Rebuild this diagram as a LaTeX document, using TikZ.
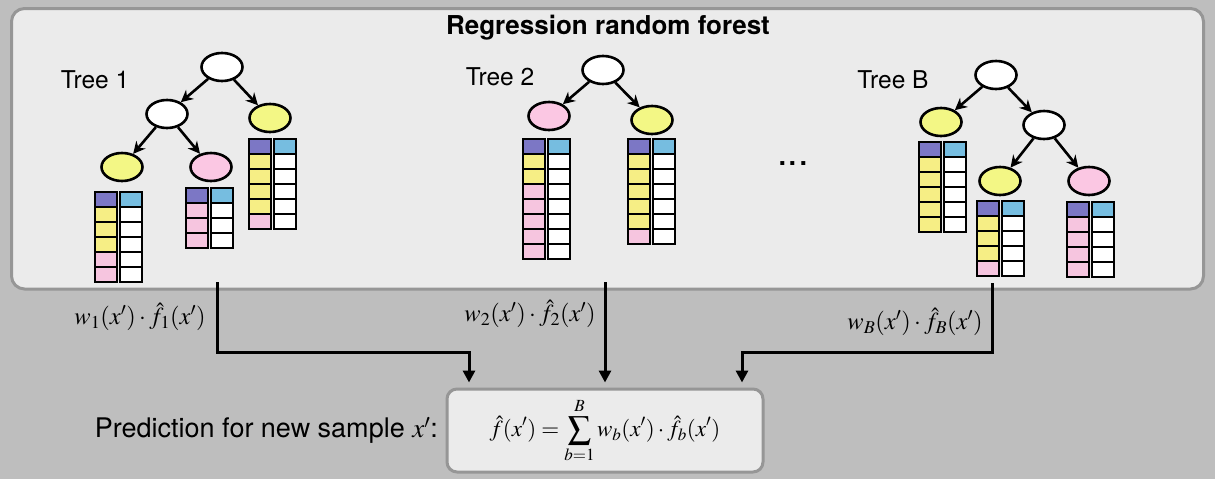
\documentclass[tikz,border=0pt]{standalone}
\usepackage{mathptmx}
\usepackage[no-math]{fontspec}
\setmainfont{TeX Gyre Heros}
\usetikzlibrary{arrows.meta,shapes.geometric,positioning}

\definecolor{bggray}{HTML}{BEBEBE}
\definecolor{panel}{HTML}{EBEBEB}
\definecolor{rim}{HTML}{969696}
\definecolor{leafyel}{HTML}{F3F785}
\definecolor{leafpink}{HTML}{FBC7E3}
\definecolor{cellpur}{HTML}{7C77C5}
\definecolor{cellyel}{HTML}{F6EE85}
\definecolor{cellpink}{HTML}{F6C5DF}
\definecolor{cellblue}{HTML}{76BDE0}

\tikzset{
  tnode/.style={draw, ellipse, line width=2.6pt, minimum width=41pt, minimum height=28pt, inner sep=0pt},
  innernode/.style={tnode, fill=white},
  yleaf/.style={tnode, fill=leafyel},
  pleaf/.style={tnode, fill=leafpink},
  branch/.style={line width=2.6pt, -{Stealth[length=12pt,width=12pt]}},
  feed/.style={line width=3pt, -{Triangle[length=12pt,width=12pt]}, shorten >=5pt},
  cell/.style={draw, line width=1.4pt},
  panelbox/.style={fill=panel, draw=rim, line width=3pt, rounded corners=13pt},
  treelbl/.style={font=\fontsize{24.5}{28}\selectfont},
  bigtext/.style={font=\fontsize{27}{30}\selectfont},
  mathlbl/.style={font=\fontsize{24.5}{28}\selectfont},
}

% leaf table: top-left corner, colours of the left column
\newcommand{\leaftab}[3]{%
  \foreach \c [count=\i from 0] in {#3} {
    \draw[cell, fill=\c] (#1, #2+15*\i) rectangle ++(22,15);
    \draw[cell, fill=white] (#1+25, #2+15*\i) rectangle ++(22,15);
  }
  \draw[cell, fill=cellblue] (#1+25, #2) rectangle ++(22,15);
}

\begin{document}
\begin{tikzpicture}[x=1pt, y=-1pt]
  \fill[bggray] (0,0) rectangle (1215,479);
  \useasboundingbox (0,0) rectangle (1215,479);

  % forest panel
  \draw[panelbox] (11.5,8.5) rectangle (1203.5,289);
  \node[font=\fontsize{26}{28}\selectfont\bfseries] (title) at (608,28) {Regression random forest};

  % tree 1
  \node[treelbl] (lab1) at (95,80) {Tree 1};
  \node[innernode] (r1) at (222,67) {};
  \node[innernode] (a1) at (167,114) {};
  \node[yleaf] (l1a) at (270,118) {};
  \node[yleaf] (l1b) at (122,167) {};
  \node[pleaf] (l1c) at (211,167) {};
  \draw[branch] (r1) -- (a1);
  \draw[branch] (r1) -- (l1a);
  \draw[branch] (a1) -- (l1b);
  \draw[branch] (a1) -- (l1c);
  \leaftab{95}{192}{cellpur,cellyel,cellyel,cellyel,cellpink,cellpink}
  \leaftab{186}{188}{cellpur,cellpink,cellpink,cellpink}
  \leaftab{249}{139}{cellpur,cellyel,cellyel,cellyel,cellyel,cellpink}

  % tree 2
  \node[treelbl] (lab2) at (500,77) {Tree 2};
  \node[innernode] (r2) at (603,70) {};
  \node[pleaf] (l2a) at (549,116) {};
  \node[yleaf] (l2b) at (652,120) {};
  \draw[branch] (r2) -- (l2a);
  \draw[branch] (r2) -- (l2b);
  \leaftab{523}{139}{cellpur,cellyel,cellyel,cellpink,cellpink,cellpink,cellpink,cellpink}
  \leaftab{628}{139}{cellpur,cellyel,cellyel,cellyel,cellyel,cellyel,cellpink}

  \node[font=\fontsize{38}{40}\selectfont] (dots) at (793,164) {...};

  % tree B
  \node[treelbl] (lab3) at (893,80) {Tree B};
  \node[innernode] (r3) at (996,75) {};
  \node[yleaf] (l3a) at (941,122) {};
  \node[innernode] (a3) at (1044,125) {};
  \node[yleaf] (l3b) at (1000,181) {};
  \node[pleaf] (l3c) at (1089,181) {};
  \draw[branch] (r3) -- (l3a);
  \draw[branch] (r3) -- (a3);
  \draw[branch] (a3) -- (l3b);
  \draw[branch] (a3) -- (l3c);
  \leaftab{919}{142}{cellpur,cellyel,cellyel,cellyel,cellyel,cellyel}
  \leaftab{977}{201}{cellpur,cellyel,cellyel,cellyel,cellpink}
  \leaftab{1067}{202}{cellpur,cellpink,cellpink,cellpink,cellpink}

  % prediction
  \node[panelbox, rounded corners=10pt, minimum width=316pt, minimum height=83pt, inner sep=0pt] (pred) at (605,430.5)
    {\fontsize{23}{26}\selectfont$\displaystyle \hat{f}(x') = \sum_{b=1}^{B} w_b(x')\cdot\hat{f}_b(x')$};
  \node[bigtext, left=4pt of pred] (predlab) {Prediction for new sample $x'$:};

  % weighted outputs
  \coordinate (o1) at (217,282);
  \coordinate (o2) at (605,282);
  \coordinate (o3) at (992,283);
  \draw[feed] (o1) -- ++(0,70) -| ([xshift=-136pt]pred.north);
  \draw[feed] (o2) -- (pred.north);
  \draw[feed] (o3) -- ++(0,69) -| ([xshift=137pt]pred.north);
  \node[mathlbl] (w1) at (140,317) {$w_1(x')\cdot\hat{f}_1(x')$};
  \node[mathlbl] (w2) at (530,314) {$w_2(x')\cdot\hat{f}_2(x')$};
  \node[mathlbl] (w3) at (915,322) {$w_B(x')\cdot\hat{f}_B(x')$};
\end{tikzpicture}
\end{document}
